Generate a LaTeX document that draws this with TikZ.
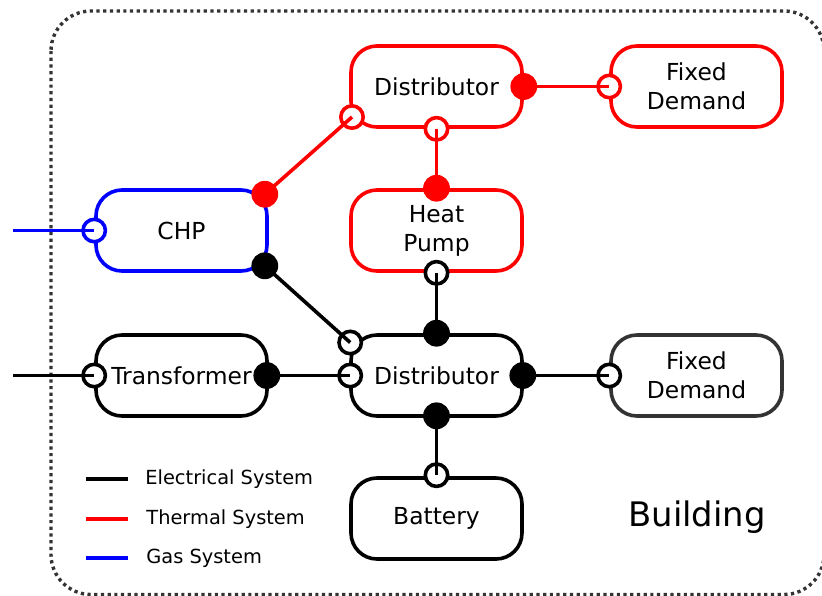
\documentclass[tikz,border=0pt]{standalone}
\usepackage{fontspec}
\setmainfont{DejaVu Sans}
\usetikzlibrary{calc}
\definecolor{framegray}{HTML}{333333}
\begin{document}
\begin{tikzpicture}[x=0.5pt,y=-0.5pt,
  unit/.style={draw=#1,line width=1.8pt,rounded corners=13pt,minimum width=85.5pt,
    minimum height=40.5pt,inner sep=0pt,align=center,fill=white,text=black,
    font=\fontsize{11.7}{14.5}\selectfont},
  unit/.default=black,
  link/.style={line width=1.8pt},
  openport/.style={circle,draw=#1,fill=white,line width=1.8pt,minimum size=11.2pt,inner sep=0pt},
  openport/.default=black,
  fullport/.style={circle,fill=#1,minimum size=13.4pt,inner sep=0pt},
  fullport/.default=black,
  legtext/.style={anchor=west,inner sep=0pt,font=\fontsize{9.7}{11}\selectfont}]

\useasboundingbox (0,0) rectangle (822,595);

% building boundary
\begin{scope}
  \clip (0,0) rectangle (822,595);
  \draw[framegray,line width=1.7pt,dash pattern=on 1.6pt off 1.75pt,rounded corners=20pt]
    (51,11) rectangle (824,594.5);
\end{scope}

% components
\node[unit=red]        (dth)  at (436.5,86.5)  {Distributor};
\node[unit=red]        (fdth) at (696.5,86.5)  {Fixed\\Demand};
\node[unit=red]        (hp)   at (436.5,230.5) {Heat\\Pump};
\node[unit=blue]       (chp)  at (181.5,230.5) {CHP};
\node[unit]            (tr)   at (181.5,375.5) {Transformer};
\node[unit]            (del)  at (436.5,375.5) {Distributor};
\node[unit=framegray]  (fdel) at (696.5,375.5) {Fixed\\Demand};
\node[unit]            (bat)  at (436.5,518.5) {Battery};
\node[font=\fontsize{16.9}{20}\selectfont] (bldg) at (697,517) {Building};

% port positions
\coordinate (dthE)  at (dth.east);
\coordinate (dthS)  at (dth.south);
\coordinate (dthSW) at (352,117);
\coordinate (fdthW) at (fdth.west);
\coordinate (hpN)   at (hp.north);
\coordinate (hpS)   at (hp.south);
\coordinate (chpW)  at (chp.west);
\coordinate (chpNE) at ($(chp.north east)+(-4,6)$);
\coordinate (chpSE) at ($(chp.south east)+(-4,-7)$);
\coordinate (trW)   at (tr.west);
\coordinate (trE)   at ($(tr.east)+(-2,0)$);
\coordinate (delW)  at ($(del.west)+(1,0)$);
\coordinate (delNW) at ($(del.west)+(1,-33)$);
\coordinate (delN)  at (del.north);
\coordinate (delE)  at ($(del.east)+(-1,0)$);
\coordinate (delS)  at ($(del.south)+(0,-2)$);
\coordinate (fdelW) at (fdel.west);
\coordinate (batN)  at ($(bat.north)+(0,-1)$);
\coordinate (gasIn) at (13,230.5);
\coordinate (elIn)  at (13,375.5);

% inlet ports
\node[openport=red]   at (dthS)  {};
\node[openport=red]   at (dthSW) {};
\node[openport=red]   at (fdthW) {};
\node[openport]       at (hpS)   {};
\node[openport=blue]  at (chpW)  {};
\node[openport]       at (trW)   {};
\node[openport]       at (delW)  {};
\node[openport]       at (delNW) {};
\node[openport]       at (fdelW) {};
\node[openport]       at (batN)  {};

% connections
\draw[link,red]  (dthE) -- (fdthW);
\draw[link,red]  (chpNE) -- (dthSW);
\draw[link,red]  (hpN) -- (dthS);
\draw[link,blue] (gasIn) -- (chpW);
\draw[link]      (elIn) -- (trW);
\draw[link]      (trE) -- (delW);
\draw[link]      (chpSE) -- (delNW);
\draw[link]      (hpS) -- (delN);
\draw[link]      (delE) -- (fdelW);
\draw[link]      (delS) -- (batN);

% outlet ports
\node[fullport=red] at (dthE)  {};
\node[fullport=red] at (hpN)   {};
\node[fullport=red] at (chpNE) {};
\node[fullport]     at (chpSE) {};
\node[fullport]     at (trE)   {};
\node[fullport]     at (delN)  {};
\node[fullport]     at (delE)  {};
\node[fullport]     at (delS)  {};

% legend
\coordinate (l1a) at (86,479);  \coordinate (l1b) at (128,479);
\coordinate (l2a) at (86,519);  \coordinate (l2b) at (128,519);
\coordinate (l3a) at (86,558);  \coordinate (l3b) at (128,558);
\draw[link]      (l1a) -- (l1b);
\draw[link,red]  (l2a) -- (l2b);
\draw[link,blue] (l3a) -- (l3b);
\node[legtext] (t1) at (145,479) {Electrical System};
\node[legtext] (t2) at (146,519) {Thermal System};
\node[legtext] (t3) at (146,558) {Gas System};
\end{tikzpicture}
\end{document}
